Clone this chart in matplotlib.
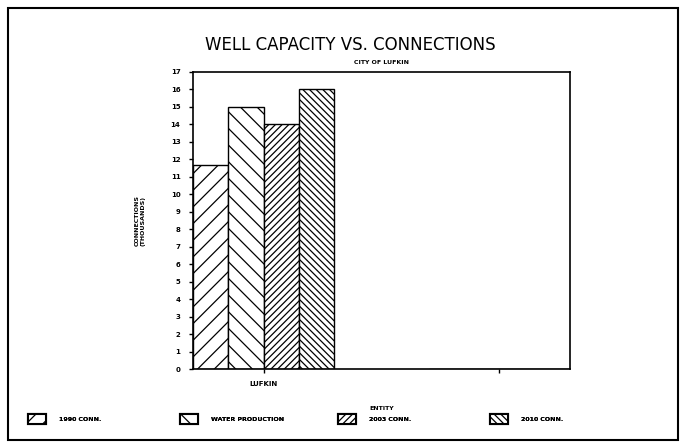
import numpy as np
import matplotlib
matplotlib.use("Agg")
import matplotlib.pyplot as plt
from matplotlib.patches import Rectangle, Patch

# data
entities = ["LUFKIN", ""]
series_names = ["1990 CONN.", "WATER PRODUCTION", "2003 CONN.", "2010 CONN."]
conn_1990 = [11.7, 0]
water_prod = [15.0, 0]
conn_2003 = [14.0, 0]
conn_2010 = [16.05, 0]
y_ticks = list(range(0, 18))

plt.rcParams["hatch.linewidth"] = 0.9

fig = plt.figure(figsize=(6.85, 4.47), dpi=100)
ax = fig.add_axes([193 / 685, 1 - 369 / 447, 377 / 685, 297 / 447])

x = np.arange(1, len(entities) + 1)
w = 0.15
hatches = ["//", "\\\\", "/////", "\\\\\\\\\\"]
all_vals = [conn_1990, water_prod, conn_2003, conn_2010]
handles = []
for i, (vals, name, h) in enumerate(zip(all_vals, series_names, hatches)):
    ax.bar(x + (i - 1.5) * w, vals, width=w, facecolor="white",
           edgecolor="black", hatch=h, linewidth=1.0)
    handles.append(Patch(facecolor="white", edgecolor="black", hatch=h,
                         linewidth=1.5, label=name))

ax.set_xlim(0.7, 2.3)
ax.set_ylim(0, 17)
ax.set_yticks(y_ticks)
ax.set_yticklabels([str(t) for t in y_ticks], fontsize=5, fontweight="bold")
ax.set_xticks(x)
ax.set_xticklabels(entities, fontsize=5, fontweight="bold")
ax.tick_params(axis="both", length=3, width=1, direction="out", pad=6)
for s in ax.spines.values():
    s.set_linewidth(1.2)

ax.set_ylabel("CONNECTIONS\n(THOUSANDS)", fontsize=4.5, fontweight="bold",
              labelpad=18)
ax.set_xlabel("ENTITY", fontsize=4.5, fontweight="bold", labelpad=13)

fig.text(350 / 685, 1 - 45 / 447, "WELL CAPACITY VS. CONNECTIONS",
         ha="center", va="center", fontsize=12)
fig.text(381 / 685, 1 - 63 / 447, "CITY OF LUFKIN", ha="center",
         va="center", fontsize=4.5, fontweight="bold")

# one legend per entry, spaced like the original key row
legend_x = [22, 174, 332, 484]
for hd, lx in zip(handles, legend_x):
    lg = fig.legend(handles=[hd], loc="center left",
                    bbox_to_anchor=(lx / 685, 1 - 419 / 447),
                    frameon=False, prop={"size": 4.5, "weight": "bold"},
                    handlelength=3.0, handleheight=2.0, handletextpad=2.0)
    fig.add_artist(lg)

# outer border of the page
fig.add_artist(Rectangle((8 / 685, 1 - 440 / 447), 670 / 685, 432 / 447,
                         transform=fig.transFigure, fill=False,
                         edgecolor="black", linewidth=1.5))

fig.savefig("out.png", dpi=100)
